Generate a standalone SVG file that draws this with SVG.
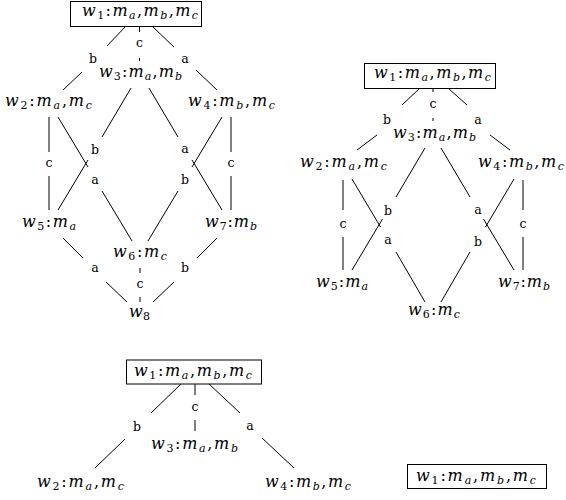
<svg xmlns="http://www.w3.org/2000/svg" width="566" height="500" viewBox="0 0 566 500">
<style>
.n{font-family:"DejaVu Serif","Liberation Serif",serif;font-size:16px;font-style:italic;fill:#000}
.s{font-size:11px}
.u{font-style:normal}
.l{font-family:"DejaVu Serif","Liberation Serif",serif;font-size:12.5px;fill:#000;text-anchor:middle}
.e{stroke:#000;stroke-width:1;fill:none}
.box{fill:#fff;stroke:#000;stroke-width:1}
</style>
<rect width="566" height="500" fill="#fff"/>
<g id="connectors">
<path class="e" d="M125,27 L107,46 M82,72 L63,90"/>
<path class="e" d="M139.5,27 V32 M139.5,58 V61"/>
<path class="e" d="M153,27 L174,47 M196,70 L217,90"/>
<path class="e" d="M49,117 V152 M49,176 V210"/>
<path class="e" d="M58,117 L88,167 M102,191 L132,241"/>
<path class="e" d="M131,88 L102,137 M88,160 L58,210"/>
<path class="e" d="M149,88 L178,137 M192,160 L222,210"/>
<path class="e" d="M222,117 L192,167 M178,191 L148,241"/>
<path class="e" d="M231,117 V152 M231,176 V210"/>
<path class="e" d="M63,238 L83,258 M106,282 L127,302"/>
<path class="e" d="M217,238 L197,258 M174,282 L153,302"/>
<path class="e" d="M140,268 V273 M140,297 V302"/>
<path class="e" d="M420,88 L402,105 M377,135 L357,150"/>
<path class="e" d="M433,88 V92 M433,118 V121"/>
<path class="e" d="M448,88 L467,105 M490,135 L510,150"/>
<path class="e" d="M343,180 V210 M343,237 V270"/>
<path class="e" d="M352,179 L380.5,227 M396,252 L425,302"/>
<path class="e" d="M425,148 L396,197 M382.5,219 L352,270"/>
<path class="e" d="M441,148 L470,197 M483.5,219 L514,270"/>
<path class="e" d="M514,179 L485.5,227 M470,252 L441,302"/>
<path class="e" d="M523,180 V210 M523,237 V270"/>
<path class="e" d="M182,383 L151,413 M125,439 L95,468"/>
<path class="e" d="M195,383 V395 M195,420 V431"/>
<path class="e" d="M208,383 L240,413 M262,438 L294,468"/>
</g>
<g id="edge-labels">
<text class="l" x="93" y="63">b</text>
<text class="l" x="139.5" y="47">c</text>
<text class="l" x="185" y="63">a</text>
<text class="l" x="49" y="167">c</text>
<text class="l" x="95" y="154">b</text>
<text class="l" x="185" y="153">a</text>
<text class="l" x="95" y="184">a</text>
<text class="l" x="185" y="184">b</text>
<text class="l" x="231" y="167">c</text>
<text class="l" x="95" y="272">a</text>
<text class="l" x="185" y="272">b</text>
<text class="l" x="140" y="288">c</text>
<text class="l" x="387" y="124">b</text>
<text class="l" x="433" y="108">c</text>
<text class="l" x="478" y="123.5">a</text>
<text class="l" x="388" y="215">b</text>
<text class="l" x="388" y="244">a</text>
<text class="l" x="478" y="214">a</text>
<text class="l" x="478" y="246">b</text>
<text class="l" x="343" y="228">c</text>
<text class="l" x="523" y="228">c</text>
<text class="l" x="137" y="431">b</text>
<text class="l" x="195" y="411">c</text>
<text class="l" x="250" y="430">a</text>
</g>
<g id="d1-w1"><rect class="box" x="70.5" y="1.5" width="131" height="25"/><text class="n" x="82" y="16" textLength="116" lengthAdjust="spacing">w<tspan class="s u" dy="3">1</tspan><tspan class="u" dy="-3">:</tspan>m<tspan class="s" dy="3">a</tspan><tspan class="u" dy="-3">,</tspan>m<tspan class="s" dy="3">b</tspan><tspan class="u" dy="-3">,</tspan>m<tspan class="s" dy="3">c</tspan></text></g>
<g id="d1-w2"><text class="n" x="5" y="106" textLength="87" lengthAdjust="spacing">w<tspan class="s u" dy="3">2</tspan><tspan class="u" dy="-3">:</tspan>m<tspan class="s" dy="3">a</tspan><tspan class="u" dy="-3">,</tspan>m<tspan class="s" dy="3">c</tspan></text></g>
<g id="d1-w3"><text class="n" x="99" y="77" textLength="83" lengthAdjust="spacing">w<tspan class="s u" dy="3">3</tspan><tspan class="u" dy="-3">:</tspan>m<tspan class="s" dy="3">a</tspan><tspan class="u" dy="-3">,</tspan>m<tspan class="s" dy="3">b</tspan></text></g>
<g id="d1-w4"><text class="n" x="188" y="106" textLength="87" lengthAdjust="spacing">w<tspan class="s u" dy="3">4</tspan><tspan class="u" dy="-3">:</tspan>m<tspan class="s" dy="3">b</tspan><tspan class="u" dy="-3">,</tspan>m<tspan class="s" dy="3">c</tspan></text></g>
<g id="d1-w5"><text class="n" x="22" y="227" textLength="54" lengthAdjust="spacing">w<tspan class="s u" dy="3">5</tspan><tspan class="u" dy="-3">:</tspan>m<tspan class="s" dy="3">a</tspan></text></g>
<g id="d1-w6"><text class="n" x="113" y="257" textLength="54" lengthAdjust="spacing">w<tspan class="s u" dy="3">6</tspan><tspan class="u" dy="-3">:</tspan>m<tspan class="s" dy="3">c</tspan></text></g>
<g id="d1-w7"><text class="n" x="205" y="227" textLength="52" lengthAdjust="spacing">w<tspan class="s u" dy="3">7</tspan><tspan class="u" dy="-3">:</tspan>m<tspan class="s" dy="3">b</tspan></text></g>
<g id="d1-w8"><text class="n" x="129" y="317" textLength="21" lengthAdjust="spacing">w<tspan class="s u" dy="3">8</tspan></text></g>
<g id="d2-w1"><rect class="box" x="364.5" y="63.5" width="131" height="25"/><text class="n" x="374" y="78" textLength="117" lengthAdjust="spacing">w<tspan class="s u" dy="3">1</tspan><tspan class="u" dy="-3">:</tspan>m<tspan class="s" dy="3">a</tspan><tspan class="u" dy="-3">,</tspan>m<tspan class="s" dy="3">b</tspan><tspan class="u" dy="-3">,</tspan>m<tspan class="s" dy="3">c</tspan></text></g>
<g id="d2-w2"><text class="n" x="300" y="167" textLength="87" lengthAdjust="spacing">w<tspan class="s u" dy="3">2</tspan><tspan class="u" dy="-3">:</tspan>m<tspan class="s" dy="3">a</tspan><tspan class="u" dy="-3">,</tspan>m<tspan class="s" dy="3">c</tspan></text></g>
<g id="d2-w3"><text class="n" x="393" y="138" textLength="83" lengthAdjust="spacing">w<tspan class="s u" dy="3">3</tspan><tspan class="u" dy="-3">:</tspan>m<tspan class="s" dy="3">a</tspan><tspan class="u" dy="-3">,</tspan>m<tspan class="s" dy="3">b</tspan></text></g>
<g id="d2-w4"><text class="n" x="478" y="167" textLength="86" lengthAdjust="spacing">w<tspan class="s u" dy="3">4</tspan><tspan class="u" dy="-3">:</tspan>m<tspan class="s" dy="3">b</tspan><tspan class="u" dy="-3">,</tspan>m<tspan class="s" dy="3">c</tspan></text></g>
<g id="d2-w5"><text class="n" x="316" y="287" textLength="52" lengthAdjust="spacing">w<tspan class="s u" dy="3">5</tspan><tspan class="u" dy="-3">:</tspan>m<tspan class="s" dy="3">a</tspan></text></g>
<g id="d2-w6"><text class="n" x="408" y="315" textLength="52" lengthAdjust="spacing">w<tspan class="s u" dy="3">6</tspan><tspan class="u" dy="-3">:</tspan>m<tspan class="s" dy="3">c</tspan></text></g>
<g id="d2-w7"><text class="n" x="498" y="287" textLength="52" lengthAdjust="spacing">w<tspan class="s u" dy="3">7</tspan><tspan class="u" dy="-3">:</tspan>m<tspan class="s" dy="3">b</tspan></text></g>
<g id="d3-w1"><rect class="box" x="126.5" y="360" width="135" height="24"/><text class="n" x="134" y="376" textLength="118" lengthAdjust="spacing">w<tspan class="s u" dy="3">1</tspan><tspan class="u" dy="-3">:</tspan>m<tspan class="s" dy="3">a</tspan><tspan class="u" dy="-3">,</tspan>m<tspan class="s" dy="3">b</tspan><tspan class="u" dy="-3">,</tspan>m<tspan class="s" dy="3">c</tspan></text></g>
<g id="d3-w2"><text class="n" x="37" y="487" textLength="87" lengthAdjust="spacing">w<tspan class="s u" dy="3">2</tspan><tspan class="u" dy="-3">:</tspan>m<tspan class="s" dy="3">a</tspan><tspan class="u" dy="-3">,</tspan>m<tspan class="s" dy="3">c</tspan></text></g>
<g id="d3-w3"><text class="n" x="151" y="449" textLength="87" lengthAdjust="spacing">w<tspan class="s u" dy="3">3</tspan><tspan class="u" dy="-3">:</tspan>m<tspan class="s" dy="3">a</tspan><tspan class="u" dy="-3">,</tspan>m<tspan class="s" dy="3">b</tspan></text></g>
<g id="d3-w4"><text class="n" x="265" y="487" textLength="86" lengthAdjust="spacing">w<tspan class="s u" dy="3">4</tspan><tspan class="u" dy="-3">:</tspan>m<tspan class="s" dy="3">b</tspan><tspan class="u" dy="-3">,</tspan>m<tspan class="s" dy="3">c</tspan></text></g>
<g id="d4-w1"><rect class="box" x="407.5" y="464.5" width="139" height="24"/><text class="n" x="416" y="481" textLength="120" lengthAdjust="spacing">w<tspan class="s u" dy="3">1</tspan><tspan class="u" dy="-3">:</tspan>m<tspan class="s" dy="3">a</tspan><tspan class="u" dy="-3">,</tspan>m<tspan class="s" dy="3">b</tspan><tspan class="u" dy="-3">,</tspan>m<tspan class="s" dy="3">c</tspan></text></g>
</svg>
